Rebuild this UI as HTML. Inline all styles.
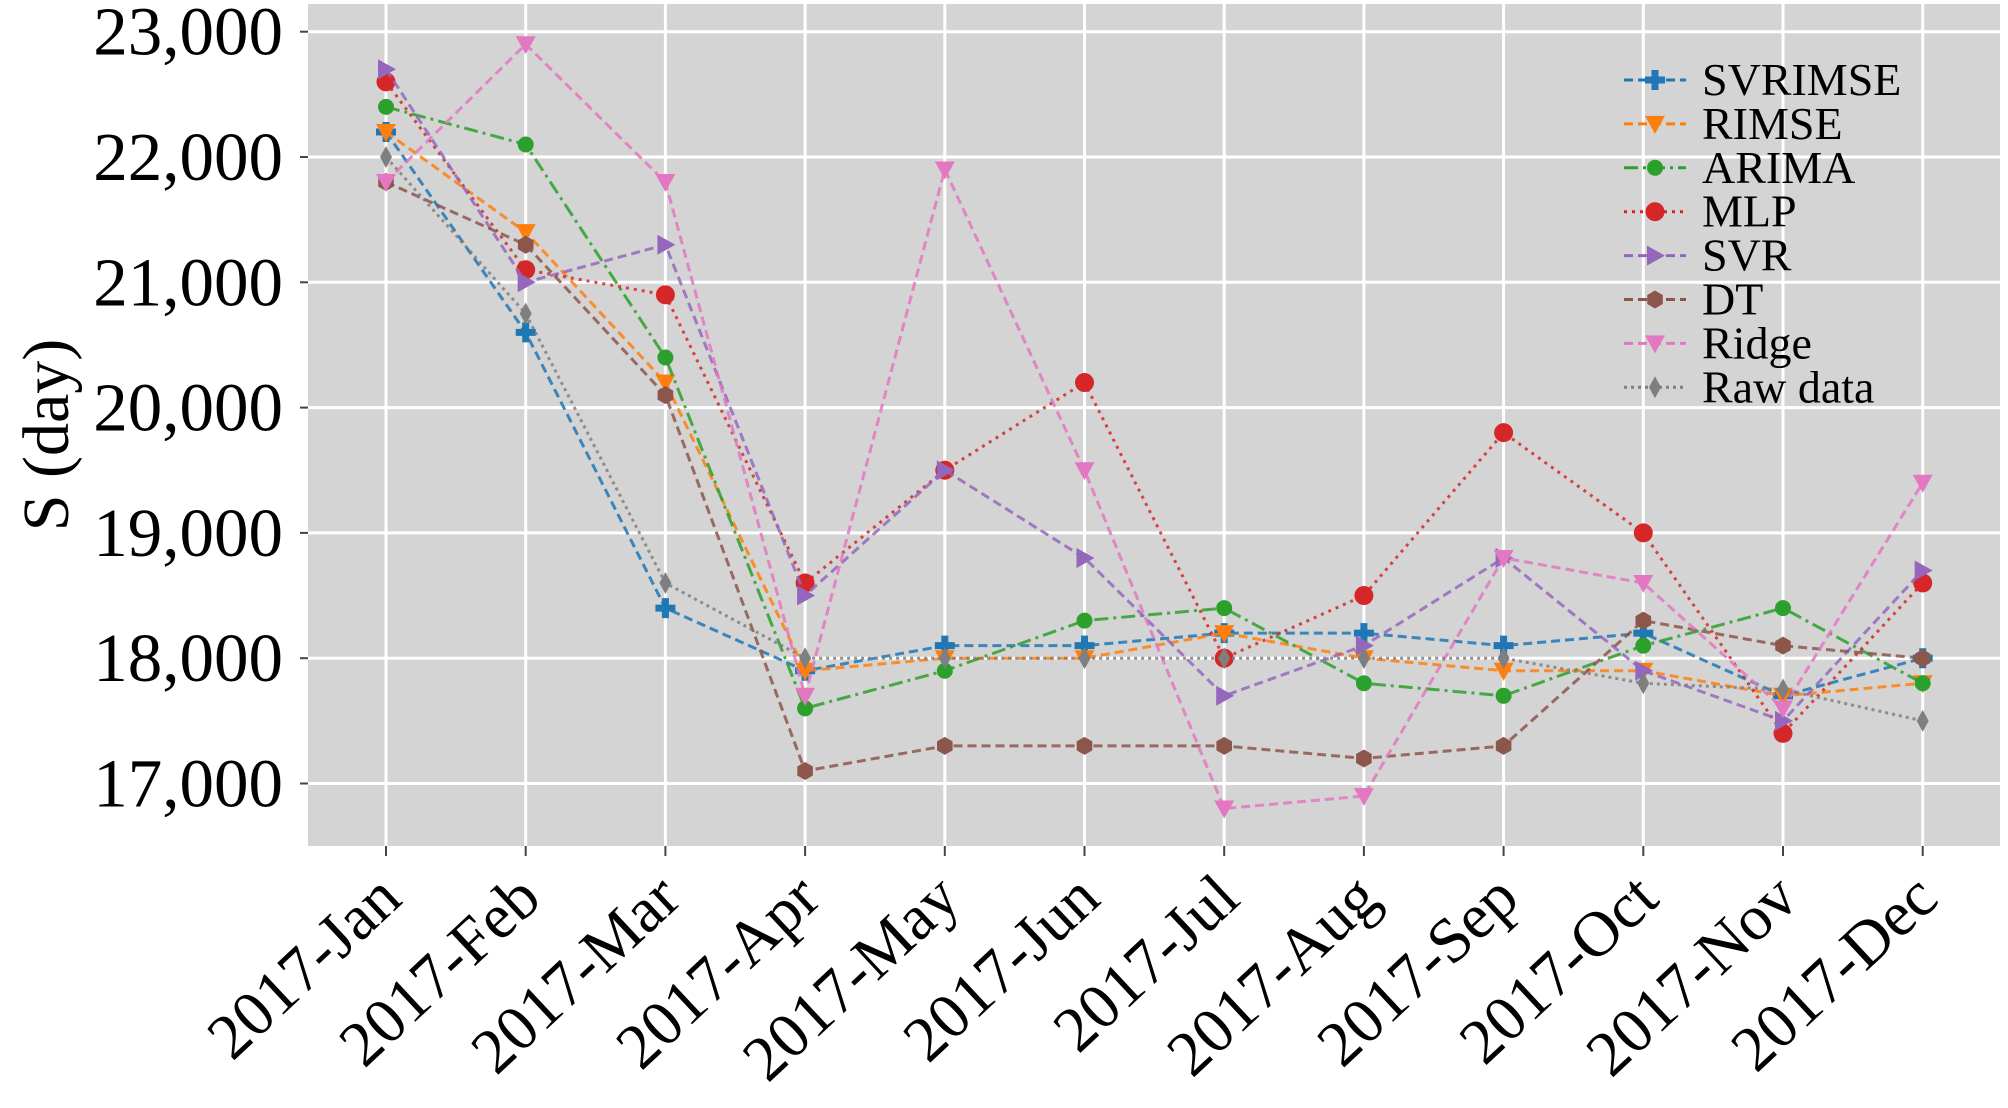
<!DOCTYPE html>
<html><head><meta charset="utf-8"><style>
html,body{margin:0;padding:0;background:#fff;}
svg{display:block;font-family:"Liberation Serif",serif;}
</style></head><body>
<svg id="chart" width="2008" height="1108" viewBox="0 0 2008 1108" xmlns="http://www.w3.org/2000/svg">
<rect x="308" y="4" width="1692" height="842" fill="#d4d4d4"/>
<g id="grid"></g><g id="axes"></g><g id="series"></g><g id="legend"></g>
<text transform="translate(68,435) rotate(-90)" text-anchor="middle" font-size="66" fill="#000">S (day)</text>
</svg>
<script>
const categories = ["2017-Jan","2017-Feb","2017-Mar","2017-Apr","2017-May","2017-Jun","2017-Jul","2017-Aug","2017-Sep","2017-Oct","2017-Nov","2017-Dec"];
const yTicks = [17000,18000,19000,20000,21000,22000,23000];
const yTickLabels = ["17,000","18,000","19,000","20,000","21,000","22,000","23,000"];
const seriesNames = ["SVRIMSE","RIMSE","ARIMA","MLP","SVR","DT","Ridge","Raw data"];
const svrimse = [22200,20600,18400,17900,18100,18100,18200,18200,18100,18200,17700,18000];
const rimse   = [22200,21400,20200,17900,18000,18000,18200,18000,17900,17900,17700,17800];
const arima   = [22400,22100,20400,17600,17900,18300,18400,17800,17700,18100,18400,17800];
const mlp     = [22600,21100,20900,18600,19500,20200,18000,18500,19800,19000,17400,18600];
const svr     = [22700,21000,21300,18500,19500,18800,17700,18100,18800,17900,17500,18700];
const dt      = [21800,21300,20100,17100,17300,17300,17300,17200,17300,18300,18100,18000];
const ridge   = [21800,22900,21800,17700,21900,19500,16800,16900,18800,18600,17600,19400];
const raw     = [22000,20750,18600,18000,18000,18000,18000,18000,18000,17800,17750,17500];

const NS="http://www.w3.org/2000/svg";
const x = i => 386 + i*139.7;
const y = v => 783.5 - (v-17000)*0.1253;
function mk(tag, attrs, parent){const e=document.createElementNS(NS,tag);for(const k in attrs)e.setAttribute(k,attrs[k]);parent.appendChild(e);return e;}
const grid=document.getElementById('grid'), axes=document.getElementById('axes'), sg=document.getElementById('series'), lg=document.getElementById('legend');
yTicks.forEach((t,i)=>{
  const l=mk('line',{x1:308,x2:2000,y1:y(t),y2:y(t),stroke:'#fff','stroke-width':3},grid);
  
  
  const tk=mk('line',{x1:300,x2:308,y1:y(t),y2:y(t),stroke:'#444','stroke-width':2},axes);
  
  
  const tx=mk('text',{x:283,y:y(t)+23,'text-anchor':'end','font-size':69,fill:'#000'},axes);
  tx.textContent=yTickLabels[i];
  
  
});
categories.forEach((c,i)=>{
  const l=mk('line',{x1:x(i),x2:x(i),y1:4,y2:846,stroke:'#fff','stroke-width':3},grid);
  
  
  const tk=mk('line',{x1:x(i),x2:x(i),y1:846,y2:856,stroke:'#444','stroke-width':2},axes);
  
  
  const tx=mk('text',{transform:`translate(${x(i)+18},${902}) rotate(-43)`,'text-anchor':'end','font-size':64,fill:'#000'},axes);
  tx.textContent=c;
  
  
});
const data=[svrimse,rimse,arima,mlp,svr,dt,ridge,raw];
const colors=['#1f77b4','#ff7f0e','#2ca02c','#d62728','#9467bd','#8c564b','#e377c2','#7f7f7f'];
const dashes=['9,5','9,5','14,5,3,5','3,5','9,5','9,5','9,5','3,4'];
const markers=['plus','vtri','circle','bigcircle','rtri','hex','vtri','diamond'];
function marker(type,cx,cy,col,parent,s){
  s=s||1;let e;
  if(type==='circle')e=mk('circle',{cx,cy,r:8*s,fill:col},parent);
  else if(type==='bigcircle')e=mk('circle',{cx,cy,r:9.5*s,fill:col},parent);
  else if(type==='vtri')e=mk('polygon',{points:`${cx-10*s},${cy-8*s} ${cx+10*s},${cy-8*s} ${cx},${cy+10*s}`,fill:col},parent);
  else if(type==='rtri')e=mk('polygon',{points:`${cx-8*s},${cy-10*s} ${cx-8*s},${cy+10*s} ${cx+10*s},${cy}`,fill:col},parent);
  else if(type==='diamond')e=mk('polygon',{points:`${cx},${cy-11*s} ${cx+6*s},${cy} ${cx},${cy+11*s} ${cx-6*s},${cy}`,fill:col},parent);
  else if(type==='hex'){let p=[];for(let k=0;k<6;k++){const a=Math.PI/6+k*Math.PI/3;p.push((cx+9*s*Math.cos(a))+','+(cy+9*s*Math.sin(a)));}e=mk('polygon',{points:p.join(' '),fill:col},parent);}
  else {e=mk('path',{d:`M${cx-3.5*s},${cy-10*s}h${7*s}v${6.5*s}h${6.5*s}v${7*s}h${-6.5*s}v${6.5*s}h${-7*s}v${-6.5*s}h${-6.5*s}v${-7*s}h${6.5*s}z`,fill:col},parent);}
  return e;
}
data.forEach((arr,si)=>{
  const g=mk('g',{},sg);
  
  
  const pl=mk('polyline',{points:arr.map((v,i)=>x(i)+','+y(v)).join(' '),fill:'none',stroke:colors[si],'stroke-width':3,'stroke-dasharray':dashes[si],opacity:0.85},g);
  
  
  arr.forEach((v,i)=>{
    const m=marker(markers[si],x(i),y(v),colors[si],g);
    
    
  });
});
seriesNames.forEach((n,si)=>{
  const cy=80+si*43.9;
  const g=mk('g',{},lg);
  
  
  mk('line',{x1:1624,x2:1686,y1:cy,y2:cy,stroke:colors[si],'stroke-width':3,'stroke-dasharray':dashes[si]},g);
  marker(markers[si],1655,cy,colors[si],g);
  const t=mk('text',{x:1702,y:cy+15,'font-size':46,fill:'#000'},g);
  t.textContent=n;
});
</script>
</body></html>
